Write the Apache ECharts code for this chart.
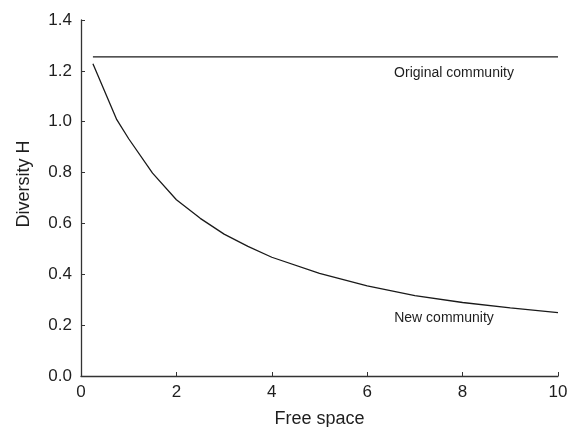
<!DOCTYPE html>
<html>
<head>
<meta charset="utf-8">
<script src="https://cdn.jsdelivr.net/npm/echarts@6/dist/echarts.min.js"></script>
<style>
  html, body { margin: 0; padding: 0; background: #fff; }
  #chart { width: 580px; height: 427px; }
</style>
</head>
<body>
<div id="chart"></div>
<script>
// Free space available vs. Shannon diversity
var freeSpace = [0.25, 0.75, 1, 1.5, 2, 2.5, 3, 3.5, 4, 5, 6, 7, 8, 9, 10];
var newCommunity = [1.228, 1.008, 0.933, 0.798, 0.693, 0.62, 0.558, 0.51, 0.467, 0.404, 0.354, 0.316, 0.289, 0.268, 0.249];
var originalX = [0.25, 10];
var originalH = [1.255, 1.255];
var xTicks = [0, 2, 4, 6, 8, 10];
var yTicks = [0, 0.2, 0.4, 0.6, 0.8, 1.0, 1.2, 1.4];
var seriesNames = ['Original community', 'New community'];
var labelPos = [[7.82, 1.19], [7.61, 0.228]];

var font = 'Liberation Sans, Arial, sans-serif';
var ink = '#1e1e1e';

function pairs(xs, ys) {
  return xs.map(function (x, i) { return [x, ys[i]]; });
}

function curveLabel(name, pos) {
  return {
    symbol: 'circle',
    symbolSize: 0,
    silent: true,
    label: {
      show: true,
      position: 'inside',
      formatter: name,
      color: ink,
      fontFamily: font,
      fontSize: 14
    },
    data: [{ coord: pos }]
  };
}

var chart = echarts.init(document.getElementById('chart'), null, { renderer: 'canvas' });
chart.setOption({
  animation: false,
  backgroundColor: '#fff',
  grid: { left: 81, right: 22, top: 20, bottom: 51, containLabel: false, outerBoundsMode: 'none' },
  xAxis: {
    type: 'value',
    min: xTicks[0],
    max: xTicks[xTicks.length - 1],
    interval: 2,
    name: 'Free space',
    nameLocation: 'middle',
    nameGap: 34,
    nameTextStyle: { color: ink, fontFamily: font, fontSize: 18 },
    axisLine: { lineStyle: { color: '#333', width: 1.3 } },
    axisTick: { inside: true, length: 4, lineStyle: { color: '#333', width: 1 } },
    axisLabel: { color: ink, fontFamily: font, fontSize: 17, margin: 8 },
    splitLine: { show: false }
  },
  yAxis: {
    type: 'value',
    min: yTicks[0],
    max: yTicks[yTicks.length - 1],
    interval: 0.2,
    name: 'Diversity H',
    nameLocation: 'middle',
    nameGap: 48,
    nameTextStyle: { color: ink, fontFamily: font, fontSize: 18, padding: [0, 0, 0, 28] },
    axisLine: { show: true, lineStyle: { color: '#333', width: 1.3 } },
    axisTick: { show: true, inside: true, length: 4, lineStyle: { color: '#333', width: 1 } },
    axisLabel: {
      color: ink, fontFamily: font, fontSize: 17, margin: 9,
      formatter: function (v) { return v.toFixed(1); }
    },
    splitLine: { show: false }
  },
  series: [
    {
      name: seriesNames[0],
      type: 'line',
      data: pairs(originalX, originalH),
      showSymbol: false,
      lineStyle: { color: '#1a1a1a', width: 1.3 },
      markPoint: curveLabel(seriesNames[0], labelPos[0])
    },
    {
      name: seriesNames[1],
      type: 'line',
      data: pairs(freeSpace, newCommunity),
      showSymbol: false,
      lineStyle: { color: '#1a1a1a', width: 1.3 },
      markPoint: curveLabel(seriesNames[1], labelPos[1])
    }
  ]
});
</script>
</body>
</html>
